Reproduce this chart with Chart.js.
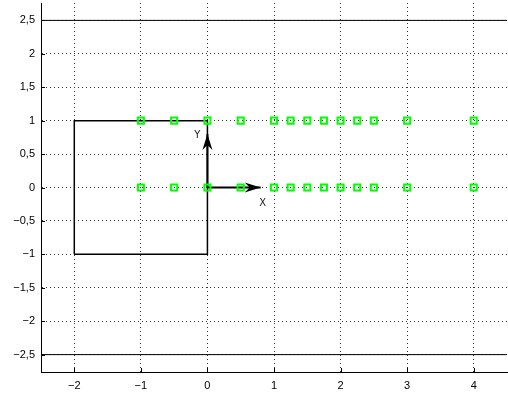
<!DOCTYPE html>
<html>
<head>
<meta charset="utf-8">
<script src="https://cdn.jsdelivr.net/npm/chart.js@4.4.0/dist/chart.umd.min.js"></script>
<style>
  html, body { margin: 0; padding: 0; background: #fff; }
  #wrap { width: 508px; height: 398px; }
</style>
</head>
<body>
<div id="wrap"><canvas id="chart"></canvas></div>
<script>
// Marker rows (green squares)
const markerX = [-1, -0.5, 0, 0.5, 1, 1.25, 1.5, 1.75, 2, 2.25, 2.5, 3, 4];
const topRowY = [1, 1, 1, 1, 1, 1, 1, 1, 1, 1, 1, 1, 1];
const bottomRowY = [0, 0, 0, 0, 0, 0, 0, 0, 0, 0, 0, 0, 0];

// Square outline
const squareX = [-2, -2, 0, 0, -2];
const squareY = [-1, 1, 1, -1, -1];

// Axis arrows from origin
const arrowNames = ['X', 'Y'];
const arrowTipX = [0.8, 0];
const arrowTipY = [0, 0.8];

// Solid limit lines
const limitX = [-2.5, 4.5];
const limitUpper = [2.5, 2.5];
const limitLower = [-2.5, -2.5];

// Ticks
const xTicks = [-2, -1, 0, 1, 2, 3, 4];
const xTickLabels = ['\u22122', '\u22121', '0', '1', '2', '3', '4'];
const yTicks = [-2.5, -2, -1.5, -1, -0.5, 0, 0.5, 1, 1.5, 2, 2.5];
const yTickLabels = ['\u22122,5', '\u22122', '\u22121,5', '\u22121', '\u22120,5', '0', '0,5', '1', '1,5', '2', '2,5'];

const pts = (xs, ys) => xs.map((x, i) => ({ x: x, y: ys[i] }));

const markerStyle = {
  showLine: false,
  pointStyle: 'rect',
  pointRadius: 4.3,
  pointBorderWidth: 2,
  pointBorderColor: '#00ff00',
  pointBackgroundColor: 'rgba(0,0,0,0)'
};
const lineStyle = (w) => ({
  showLine: true,
  borderColor: '#000',
  borderWidth: w,
  pointRadius: 0,
  fill: false
});

const datasets = [
  Object.assign({ data: pts(markerX, topRowY) }, markerStyle),
  Object.assign({ data: pts(markerX, bottomRowY) }, markerStyle),
  Object.assign({ data: pts([0, arrowTipX[0]], [0, arrowTipY[0]]), arrow: arrowNames[0] }, lineStyle(2)),
  Object.assign({ data: pts([0, arrowTipX[1]], [0, arrowTipY[1]]), arrow: arrowNames[1] }, lineStyle(2)),
  Object.assign({ data: pts(squareX, squareY) }, lineStyle(1.5)),
  Object.assign({ data: pts(limitX, limitUpper) }, lineStyle(1)),
  Object.assign({ data: pts(limitX, limitLower) }, lineStyle(1))
];

// arrow heads + labels, drawn right after each arrow shaft
const arrowPlugin = {
  id: 'arrows',
  afterDatasetDraw(chart, args) {
    const ds = chart.data.datasets[args.index];
    if (!ds.arrow) return;
    const xs = chart.scales.x, ys = chart.scales.y;
    const a = ds.data[0], b = ds.data[ds.data.length - 1];
    const x0 = xs.getPixelForValue(a.x), y0 = ys.getPixelForValue(a.y);
    const x1 = xs.getPixelForValue(b.x), y1 = ys.getPixelForValue(b.y);
    const ang = Math.atan2(y1 - y0, x1 - x0);
    const len = 16, half = 5, notch = 11;
    const ctx = chart.ctx;
    ctx.save();
    ctx.translate(x1, y1);
    ctx.rotate(ang);
    ctx.fillStyle = '#000';
    ctx.beginPath();
    ctx.moveTo(0, 0);
    ctx.lineTo(-len, -half);
    ctx.lineTo(-notch, 0);
    ctx.lineTo(-len, half);
    ctx.closePath();
    ctx.fill();
    ctx.restore();

    ctx.save();
    ctx.font = '10px "DejaVu Sans"';
    ctx.fillStyle = '#222';
    ctx.textAlign = 'center';
    ctx.textBaseline = 'middle';
    if (ds.arrow === 'X') ctx.fillText(ds.arrow, x1 + 2, y1 + 16);
    else ctx.fillText(ds.arrow, x1 - 10, y1 + 1);
    ctx.restore();
  }
};

// inward tick marks
const innerTicks = {
  id: 'innerTicks',
  afterDraw(chart) {
    const { ctx, chartArea: ca } = chart;
    const xs = chart.scales.x, ys = chart.scales.y;
    ctx.save();
    ctx.strokeStyle = '#000';
    ctx.lineWidth = 1;
    ctx.beginPath();
    xs.ticks.forEach((t) => {
      const px = Math.round(xs.getPixelForValue(t.value)) + 0.5;
      ctx.moveTo(px, ca.bottom);
      ctx.lineTo(px, ca.bottom - 4);
    });
    ys.ticks.forEach((t) => {
      const py = Math.round(ys.getPixelForValue(t.value)) + 0.5;
      ctx.moveTo(ca.left, py);
      ctx.lineTo(ca.left + 4, py);
    });
    ctx.stroke();
    ctx.restore();
  }
};

const tickFont = { family: '"Liberation Sans"', size: 11 };

new Chart(document.getElementById('chart'), {
  type: 'scatter',
  data: { datasets: datasets },
  plugins: [arrowPlugin, innerTicks],
  options: {
    responsive: true,
    maintainAspectRatio: false,
    animation: false,
    layout: { autoPadding: false, padding: { top: 3, right: 1, left: 0, bottom: 0 } },
    plugins: { legend: { display: false }, tooltip: { enabled: false } },
    scales: {
      x: {
        type: 'linear',
        min: -2.5,
        max: 4.5,
        afterBuildTicks: (s) => { s.ticks = xTicks.map((v) => ({ value: v })); },
        afterFit: (s) => { s.height = 26; s.paddingLeft = 0; s.paddingRight = 0; },
        ticks: {
          color: '#000',
          font: tickFont,
          padding: 7,
          maxRotation: 0,
          autoSkip: false,
          callback: (v, i) => xTickLabels[i]
        },
        grid: { color: '#333', lineWidth: 1, drawTicks: false },
        border: { display: true, color: '#000', width: 1, dash: [1, 3] }
      },
      y: {
        type: 'linear',
        min: -2.76,
        max: 2.76,
        afterBuildTicks: (s) => { s.ticks = yTicks.map((v) => ({ value: v })); },
        afterFit: (s) => { s.width = 41; s.paddingTop = 0; s.paddingBottom = 0; },
        ticks: {
          color: '#000',
          font: tickFont,
          padding: 6,
          autoSkip: false,
          callback: (v, i) => yTickLabels[i]
        },
        grid: { color: '#333', lineWidth: 1, drawTicks: false },
        border: { display: true, color: '#000', width: 1, dash: [1, 3] }
      }
    }
  }
});
</script>
</body>
</html>
